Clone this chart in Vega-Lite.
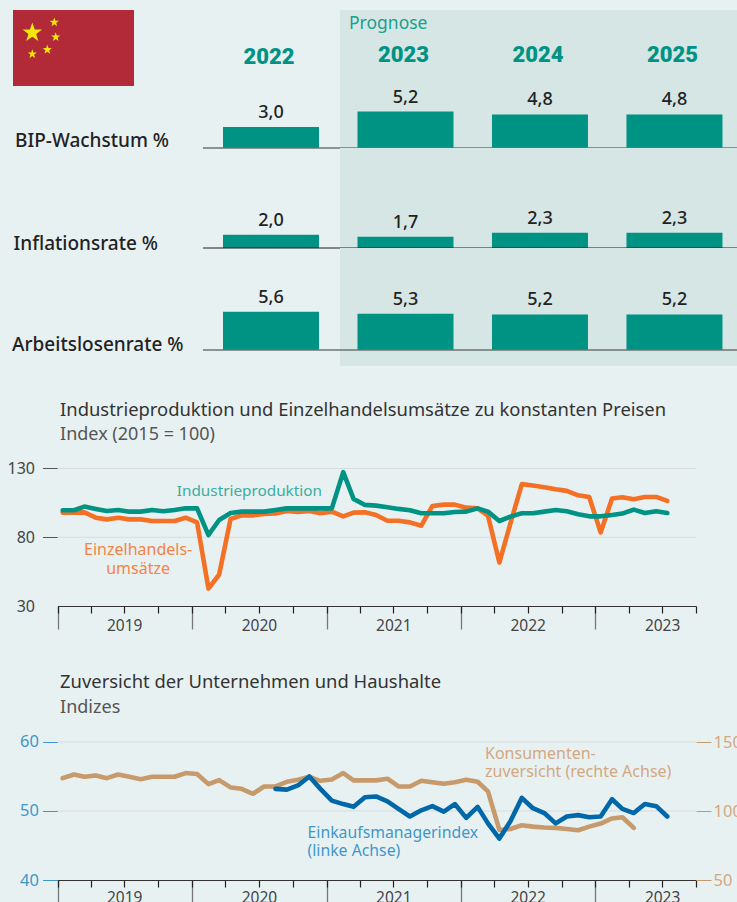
{"$schema":"https://vega.github.io/schema/vega-lite/v6.json","padding":0,"background":"#e8f1f2","bounds":"flush","spacing":0,"config":{"view":{"stroke":null},"font":"Noto Sans","text":{"font":"Noto Sans"}},
"datasets":{"kennzahlen":[
{"ind":"BIP","year":2022,"v":3.0,"l":"3,0"},{"ind":"BIP","year":2023,"v":5.2,"l":"5,2"},{"ind":"BIP","year":2024,"v":4.8,"l":"4,8"},{"ind":"BIP","year":2025,"v":4.8,"l":"4,8"},
{"ind":"INF","year":2022,"v":2.0,"l":"2,0"},{"ind":"INF","year":2023,"v":1.7,"l":"1,7"},{"ind":"INF","year":2024,"v":2.3,"l":"2,3"},{"ind":"INF","year":2025,"v":2.3,"l":"2,3"},
{"ind":"ARB","year":2022,"v":5.6,"l":"5,6"},{"ind":"ARB","year":2023,"v":5.3,"l":"5,3"},{"ind":"ARB","year":2024,"v":5.2,"l":"5,2"},{"ind":"ARB","year":2025,"v":5.2,"l":"5,2"}],
"jahre":[{"year":2022},{"year":2023},{"year":2024},{"year":2025}],
"sterne":[{"fx":19.3,"fy":22.7,"s":420},{"fx":41.3,"fy":12.3,"s":95},{"fx":42.7,"fy":27,"s":95},{"fx":34.3,"fy":39.7,"s":95},{"fx":19.3,"fy":44,"s":95}],
"industrie":[{"d":"2019-01-15","v":99.6},{"d":"2019-02-15","v":99.6},{"d":"2019-03-15","v":102.3},{"d":"2019-04-15","v":100.6},{"d":"2019-05-15","v":99.1},{"d":"2019-06-15","v":99.8},{"d":"2019-07-15","v":98.6},{"d":"2019-08-15","v":98.6},{"d":"2019-09-15","v":99.8},{"d":"2019-10-15","v":98.9},{"d":"2019-11-15","v":99.8},{"d":"2019-12-15","v":101},{"d":"2020-01-15","v":101},{"d":"2020-02-15","v":81.6},{"d":"2020-03-15","v":92.5},{"d":"2020-04-15","v":97.6},{"d":"2020-05-15","v":98.6},{"d":"2020-06-15","v":98.6},{"d":"2020-07-15","v":98.6},{"d":"2020-08-15","v":99.8},{"d":"2020-09-15","v":101},{"d":"2020-10-15","v":101},{"d":"2020-11-15","v":101},{"d":"2020-12-15","v":101},{"d":"2021-01-15","v":101},{"d":"2021-02-15","v":127.3},{"d":"2021-03-15","v":107.9},{"d":"2021-04-15","v":103.5},{"d":"2021-05-15","v":103},{"d":"2021-06-15","v":101.8},{"d":"2021-07-15","v":100.6},{"d":"2021-08-15","v":99.6},{"d":"2021-09-15","v":97.4},{"d":"2021-10-15","v":97.4},{"d":"2021-11-15","v":97.4},{"d":"2021-12-15","v":98.4},{"d":"2022-01-15","v":98.6},{"d":"2022-02-15","v":101},{"d":"2022-03-15","v":98.6},{"d":"2022-04-15","v":91.8},{"d":"2022-05-15","v":95},{"d":"2022-06-15","v":97.4},{"d":"2022-07-15","v":97.4},{"d":"2022-08-15","v":98.6},{"d":"2022-09-15","v":99.8},{"d":"2022-10-15","v":98.9},{"d":"2022-11-15","v":96.7},{"d":"2022-12-15","v":95.2},{"d":"2023-01-15","v":95.2},{"d":"2023-02-15","v":96.2},{"d":"2023-03-15","v":97.2},{"d":"2023-04-15","v":100.1},{"d":"2023-05-15","v":97.6},{"d":"2023-06-15","v":98.9},{"d":"2023-07-15","v":97.6}],
"einzelhandel":[{"d":"2019-01-15","v":97.9},{"d":"2019-02-15","v":97.9},{"d":"2019-03-15","v":98.1},{"d":"2019-04-15","v":94.2},{"d":"2019-05-15","v":93},{"d":"2019-06-15","v":94.2},{"d":"2019-07-15","v":93},{"d":"2019-08-15","v":93},{"d":"2019-09-15","v":91.8},{"d":"2019-10-15","v":91.8},{"d":"2019-11-15","v":91.8},{"d":"2019-12-15","v":94.2},{"d":"2020-01-15","v":90.8},{"d":"2020-02-15","v":42.7},{"d":"2020-03-15","v":52.9},{"d":"2020-04-15","v":93.3},{"d":"2020-05-15","v":95.9},{"d":"2020-06-15","v":95.9},{"d":"2020-07-15","v":96.9},{"d":"2020-08-15","v":97.2},{"d":"2020-09-15","v":99.1},{"d":"2020-10-15","v":98.4},{"d":"2020-11-15","v":99.1},{"d":"2020-12-15","v":97.4},{"d":"2021-01-15","v":98.6},{"d":"2021-02-15","v":95.2},{"d":"2021-03-15","v":97.9},{"d":"2021-04-15","v":98.1},{"d":"2021-05-15","v":96.2},{"d":"2021-06-15","v":92},{"d":"2021-07-15","v":92},{"d":"2021-08-15","v":90.8},{"d":"2021-09-15","v":88.4},{"d":"2021-10-15","v":102.7},{"d":"2021-11-15","v":103.7},{"d":"2021-12-15","v":103.7},{"d":"2022-01-15","v":101.5},{"d":"2022-02-15","v":101},{"d":"2022-03-15","v":95.7},{"d":"2022-04-15","v":61.6},{"d":"2022-05-15","v":90.1},{"d":"2022-06-15","v":118.6},{"d":"2022-07-15","v":117.6},{"d":"2022-08-15","v":116.4},{"d":"2022-09-15","v":114.9},{"d":"2022-10-15","v":113.7},{"d":"2022-11-15","v":110.5},{"d":"2022-12-15","v":109.3},{"d":"2023-01-15","v":83.5},{"d":"2023-02-15","v":108.1},{"d":"2023-03-15","v":109.1},{"d":"2023-04-15","v":107.6},{"d":"2023-05-15","v":109.3},{"d":"2023-06-15","v":109.3},{"d":"2023-07-15","v":106.4}],
"konsum":[{"d":"2019-01-15","v":123.8},{"d":"2019-02-15","v":126.5},{"d":"2019-03-15","v":124.8},{"d":"2019-04-15","v":125.8},{"d":"2019-05-15","v":123.8},{"d":"2019-06-15","v":126.5},{"d":"2019-07-15","v":124.8},{"d":"2019-08-15","v":123.1},{"d":"2019-09-15","v":124.8},{"d":"2019-10-15","v":124.8},{"d":"2019-11-15","v":124.8},{"d":"2019-12-15","v":127.5},{"d":"2020-01-15","v":126.8},{"d":"2020-02-15","v":119.5},{"d":"2020-03-15","v":122.4},{"d":"2020-04-15","v":117.1},{"d":"2020-05-15","v":116.1},{"d":"2020-06-15","v":112.5},{"d":"2020-07-15","v":117.8},{"d":"2020-08-15","v":117.8},{"d":"2020-09-15","v":121.2},{"d":"2020-10-15","v":122.6},{"d":"2020-11-15","v":124.8},{"d":"2020-12-15","v":121.9},{"d":"2021-01-15","v":122.9},{"d":"2021-02-15","v":127.5},{"d":"2021-03-15","v":122.2},{"d":"2021-04-15","v":122.2},{"d":"2021-05-15","v":122.2},{"d":"2021-06-15","v":123.4},{"d":"2021-07-15","v":117.8},{"d":"2021-08-15","v":117.8},{"d":"2021-09-15","v":121.9},{"d":"2021-10-15","v":120.9},{"d":"2021-11-15","v":119.7},{"d":"2021-12-15","v":120.9},{"d":"2022-01-15","v":122.6},{"d":"2022-02-15","v":121.2},{"d":"2022-03-15","v":114.2},{"d":"2022-04-15","v":86.3},{"d":"2022-05-15","v":87},{"d":"2022-06-15","v":89.7},{"d":"2022-07-15","v":88.7},{"d":"2022-08-15","v":88},{"d":"2022-09-15","v":87.8},{"d":"2022-10-15","v":87},{"d":"2022-11-15","v":86.1},{"d":"2022-12-15","v":88.7},{"d":"2023-01-15","v":90.9},{"d":"2023-02-15","v":94.6},{"d":"2023-03-15","v":95.5},{"d":"2023-04-15","v":87.8}],
"pmi":[{"d":"2020-08-15","v":53.2},{"d":"2020-09-15","v":53.1},{"d":"2020-10-15","v":53.7},{"d":"2020-11-15","v":55},{"d":"2020-12-15","v":53.2},{"d":"2021-01-15","v":51.5},{"d":"2021-02-15","v":51},{"d":"2021-03-15","v":50.6},{"d":"2021-04-15","v":52},{"d":"2021-05-15","v":52.1},{"d":"2021-06-15","v":51.4},{"d":"2021-07-15","v":50.3},{"d":"2021-08-15","v":49.2},{"d":"2021-09-15","v":50.1},{"d":"2021-10-15","v":50.7},{"d":"2021-11-15","v":49.9},{"d":"2021-12-15","v":51},{"d":"2022-01-15","v":49},{"d":"2022-02-15","v":50.6},{"d":"2022-03-15","v":48.2},{"d":"2022-04-15","v":46},{"d":"2022-05-15","v":48.5},{"d":"2022-06-15","v":51.9},{"d":"2022-07-15","v":50.4},{"d":"2022-08-15","v":49.7},{"d":"2022-09-15","v":48.2},{"d":"2022-10-15","v":49.2},{"d":"2022-11-15","v":49.4},{"d":"2022-12-15","v":49.1},{"d":"2023-01-15","v":49.2},{"d":"2023-02-15","v":51.7},{"d":"2023-03-15","v":50.3},{"d":"2023-04-15","v":49.7},{"d":"2023-05-15","v":51},{"d":"2023-06-15","v":50.7},{"d":"2023-07-15","v":49.2}]},
"vconcat":[
{"width":737,"height":90,"resolve":{"scale":{"x":"independent","y":"independent"}},"layer":[
{"data":{"values":[{"a":1}]},"mark":{"type":"rect","color":"#d5e6e5"},"encoding":{"x":{"datum":2022.513,"scale":{"domain":[2019.985,2025.465],"padding":0},"axis":null},"x2":{"datum":2025.465},"y":{"datum":10,"scale":{"domain":[90,0]},"axis":null},"y2":{"datum":90}}},
{"data":{"values":[{"a":1}]},"mark":{"type":"text","text":"Prognose","align":"left","baseline":"middle","color":"#1a9e90","fontSize":17.5},"encoding":{"x":{"datum":2022.58,"scale":{"domain":[2019.985,2025.465],"padding":0},"axis":null},"y":{"datum":24,"scale":{"domain":[90,0]},"axis":null}}},
{"data":{"name":"jahre"},"transform":[{"filter":"datum.year>2022"}],"mark":{"type":"text","dx":-2,"baseline":"middle","color":"#009384","fontSize":22,"fontWeight":900,"font":"Roboto"},"encoding":{"x":{"field":"year","type":"quantitative","scale":{"domain":[2019.985,2025.465],"padding":0},"axis":null},"y":{"datum":55,"scale":{"domain":[90,0]},"axis":null},"text":{"field":"year","type":"nominal"}}},
{"data":{"name":"jahre"},"transform":[{"filter":"datum.year==2022"}],"mark":{"type":"text","dx":-2,"baseline":"middle","color":"#009384","fontSize":22,"fontWeight":900,"font":"Roboto"},"encoding":{"x":{"field":"year","type":"quantitative","scale":{"domain":[2019.985,2025.465],"padding":0},"axis":null},"y":{"datum":57,"scale":{"domain":[90,0]},"axis":null},"text":{"field":"year","type":"nominal"}}},
{"data":{"values":[{"a":1}]},"mark":{"type":"rect","color":"#b22a37"},"encoding":{"x":{"datum":0,"scale":{"domain":[0,121],"range":[13,134]},"axis":null},"x2":{"datum":121},"y":{"datum":0,"scale":{"domain":[0,76],"range":[10,86]},"axis":null},"y2":{"datum":76}}},
{"data":{"name":"sterne"},"mark":{"type":"point","filled":true,"opacity":1,"color":"#f2e70c","strokeWidth":0,"shape":"M0,-1L0.235,-0.324L0.951,-0.309L0.38,0.124L0.588,0.809L0,0.4L-0.588,0.809L-0.38,0.124L-0.951,-0.309L-0.235,-0.324Z"},"encoding":{"x":{"field":"fx","type":"quantitative","scale":{"domain":[0,121],"range":[13,134]},"axis":null},"y":{"field":"fy","type":"quantitative","scale":{"domain":[0,76],"range":[10,86]},"axis":null},"size":{"field":"s","type":"quantitative","scale":null,"legend":null}}}
]},
{"width":737,"height":58,"data":{"name":"kennzahlen"},"transform":[{"filter":"datum.ind=='BIP'"}],"layer":[
{"data":{"values":[{"a":1}]},"mark":{"type":"rect","color":"#d5e6e5"},"encoding":{"x":{"datum":2022.513,"scale":{"domain":[2019.985,2025.465],"padding":0},"axis":null},"x2":{"datum":2025.465}}},
{"mark":{"type":"bar","width":96,"orient":"vertical","color":"#009384"},"encoding":{"x":{"field":"year","type":"quantitative","scale":{"domain":[2019.985,2025.465],"padding":0},"axis":null},"y":{"field":"v","type":"quantitative","scale":{"domain":[0,8.29]},"axis":null}}},
{"data":{"values":[{"a":1}]},"mark":{"type":"rule","color":"#6b7472","strokeWidth":1.5},"encoding":{"x":{"datum":2021.494,"scale":{"domain":[2019.985,2025.465],"padding":0},"axis":null},"x2":{"datum":2025.465},"y":{"datum":0,"scale":{"domain":[0,8.29]},"axis":null}}},
{"mark":{"type":"text","dy":-14,"baseline":"middle","color":"#222","fontSize":18,"fontWeight":500},"encoding":{"x":{"field":"year","type":"quantitative","scale":{"domain":[2019.985,2025.465],"padding":0},"axis":null},"y":{"field":"v","type":"quantitative","scale":{"domain":[0,8.29]},"axis":null},"text":{"field":"l"}}},
{"data":{"values":[{"t":"BIP-Wachstum %"}]},"mark":{"type":"text","align":"left","baseline":"middle","color":"#222","fontSize":19,"fontWeight":500},"encoding":{"x":{"datum":2020.097,"scale":{"domain":[2019.985,2025.465],"padding":0},"axis":null},"y":{"datum":1,"scale":{"domain":[0,8.29]},"axis":null},"text":{"field":"t"}}}
]},
{"width":737,"height":100,"data":{"name":"kennzahlen"},"transform":[{"filter":"datum.ind=='INF'"}],"layer":[
{"data":{"values":[{"a":1}]},"mark":{"type":"rect","color":"#d5e6e5"},"encoding":{"x":{"datum":2022.513,"scale":{"domain":[2019.985,2025.465],"padding":0},"axis":null},"x2":{"datum":2025.465}}},
{"mark":{"type":"bar","width":96,"orient":"vertical","color":"#009384"},"encoding":{"x":{"field":"year","type":"quantitative","scale":{"domain":[2019.985,2025.465],"padding":0},"axis":null},"y":{"field":"v","type":"quantitative","scale":{"domain":[0,15.15]},"axis":null}}},
{"data":{"values":[{"a":1}]},"mark":{"type":"rule","color":"#1c1c1c","strokeWidth":1},"encoding":{"x":{"datum":2021.494,"scale":{"domain":[2019.985,2025.465],"padding":0},"axis":null},"x2":{"datum":2025.465},"y":{"datum":0,"scale":{"domain":[0,15.15]},"axis":null}}},
{"mark":{"type":"text","dy":-14,"baseline":"middle","color":"#222","fontSize":18,"fontWeight":500},"encoding":{"x":{"field":"year","type":"quantitative","scale":{"domain":[2019.985,2025.465],"padding":0},"axis":null},"y":{"field":"v","type":"quantitative","scale":{"domain":[0,15.15]},"axis":null},"text":{"field":"l"}}},
{"data":{"values":[{"t":"Inflationsrate %"}]},"mark":{"type":"text","align":"left","baseline":"middle","color":"#222","fontSize":19,"fontWeight":500},"encoding":{"x":{"datum":2020.086,"scale":{"domain":[2019.985,2025.465],"padding":0},"axis":null},"y":{"datum":0.6,"scale":{"domain":[0,15.15]},"axis":null},"text":{"field":"t"}}}
]},
{"width":737,"height":118,"data":{"name":"kennzahlen"},"transform":[{"filter":"datum.ind=='ARB'"}],"layer":[
{"data":{"values":[{"a":1}]},"mark":{"type":"rect","color":"#d5e6e5"},"encoding":{"x":{"datum":2022.513,"scale":{"domain":[2019.985,2025.465],"padding":0},"axis":null},"x2":{"datum":2025.465}}},
{"mark":{"type":"bar","width":96,"orient":"vertical","color":"#009384"},"encoding":{"x":{"field":"year","type":"quantitative","scale":{"domain":[2019.985,2025.465],"padding":0},"axis":null},"y":{"field":"v","type":"quantitative","scale":{"domain":[-2.336,14.89]},"axis":null}}},
{"data":{"values":[{"a":1}]},"mark":{"type":"rule","color":"#6b7472","strokeWidth":1.5},"encoding":{"x":{"datum":2021.494,"scale":{"domain":[2019.985,2025.465],"padding":0},"axis":null},"x2":{"datum":2025.465},"y":{"datum":0,"scale":{"domain":[-2.336,14.89]},"axis":null}}},
{"mark":{"type":"text","dy":-14,"baseline":"middle","color":"#222","fontSize":18,"fontWeight":500},"encoding":{"x":{"field":"year","type":"quantitative","scale":{"domain":[2019.985,2025.465],"padding":0},"axis":null},"y":{"field":"v","type":"quantitative","scale":{"domain":[-2.336,14.89]},"axis":null},"text":{"field":"l"}}},
{"data":{"values":[{"t":"Arbeitslosenrate %"}]},"mark":{"type":"text","align":"left","baseline":"middle","color":"#222","fontSize":19,"fontWeight":500},"encoding":{"x":{"datum":2020.075,"scale":{"domain":[2019.985,2025.465],"padding":0},"axis":null},"y":{"datum":0.7,"scale":{"domain":[-2.336,14.89]},"axis":null},"text":{"field":"t"}}}
]},
{"width":737,"height":240,"resolve":{"scale":{"y":"independent"},"axis":{"x":"independent","y":"independent"}},"layer":[
{"data":{"values":[{"g":130},{"g":80}]},"mark":{"type":"rule","color":"#d7dcdc","strokeWidth":1},"encoding":{"x":{"datum":{"year":2019,"month":1,"date":1},"type":"temporal","scale":{"domain":[{"year":2019,"month":1,"date":1},{"year":2023,"month":10,"date":1}],"range":[57.5,696]},"axis":{"orient":"bottom","title":null,"values":[{"year":2019,"month":1,"date":1},{"year":2020,"month":1,"date":1},{"year":2021,"month":1,"date":1},{"year":2022,"month":1,"date":1},{"year":2023,"month":1,"date":1}],"labels":false,"domain":false,"grid":false,"tickSize":23,"tickColor":"#777","tickWidth":1.3}},"x2":{"datum":{"year":2023,"month":10,"date":1}},"y":{"field":"g","type":"quantitative","scale":{"domain":[30,204.5]},"axis":{"orient":"left","offset":-57.5,"title":null,"values":[30,80,130],"grid":false,"domain":false,"tickSize":15,"tickColor":{"condition":{"test":"datum.value==30","value":"transparent"},"value":"#555"},"labelColor":"#444","labelFontSize":16,"labelPadding":8,"labelFont":"Noto Sans"}}}},
{"data":{"name":"einzelhandel"},"mark":{"type":"line","color":"#f47024","strokeWidth":4.6,"strokeJoin":"round","strokeCap":"round"},"encoding":{"x":{"field":"d","type":"temporal","scale":{"domain":[{"year":2019,"month":1,"date":1},{"year":2023,"month":10,"date":1}],"range":[57.5,696]},"axis":{"orient":"bottom","title":null,"values":[{"year":2019,"month":1,"date":1},{"year":2019,"month":4,"date":1},{"year":2019,"month":7,"date":1},{"year":2019,"month":10,"date":1},{"year":2020,"month":1,"date":1},{"year":2020,"month":4,"date":1},{"year":2020,"month":7,"date":1},{"year":2020,"month":10,"date":1},{"year":2021,"month":1,"date":1},{"year":2021,"month":4,"date":1},{"year":2021,"month":7,"date":1},{"year":2021,"month":10,"date":1},{"year":2022,"month":1,"date":1},{"year":2022,"month":4,"date":1},{"year":2022,"month":7,"date":1},{"year":2022,"month":10,"date":1},{"year":2023,"month":1,"date":1},{"year":2023,"month":4,"date":1},{"year":2023,"month":7,"date":1},{"year":2023,"month":10,"date":1}],"labelExpr":"month(datum.value)==6?''+year(datum.value):''","grid":false,"domainColor":"#333","domainWidth":1.2,"tickSize":7,"tickColor":"#222","tickWidth":1.2,"labelColor":"#444","labelFontSize":15.5,"labelPadding":5,"labelOverlap":false,"labelFlush":false,"labelFont":"Noto Sans"}},"y":{"field":"v","type":"quantitative","scale":{"domain":[30,204.5]},"axis":null}}},
{"data":{"name":"industrie"},"mark":{"type":"line","color":"#009384","strokeWidth":4.6,"strokeJoin":"round","strokeCap":"round"},"encoding":{"x":{"field":"d","type":"temporal","axis":null},"y":{"field":"v","type":"quantitative","scale":{"domain":[30,204.5]},"axis":null}}},
{"data":{"values":[{"t":"Industrieproduktion"}]},"mark":{"type":"text","align":"left","baseline":"middle","color":"#3bac9f","fontSize":15.3},"encoding":{"x":{"datum":{"year":2019,"month":11,"date":21},"type":"temporal","axis":null},"y":{"datum":113.6,"scale":{"domain":[30,204.5]},"axis":null},"text":{"field":"t"}}},
{"data":{"values":[{"t":"Einzelhandels-"}]},"mark":{"type":"text","align":"center","baseline":"middle","color":"#f58345","fontSize":16},"encoding":{"x":{"datum":{"year":2019,"month":8,"date":8},"type":"temporal","axis":null},"y":{"datum":70.7,"scale":{"domain":[30,204.5]},"axis":null},"text":{"field":"t"}}},
{"data":{"values":[{"t":"umsätze"}]},"mark":{"type":"text","align":"center","baseline":"middle","color":"#f58345","fontSize":16},"encoding":{"x":{"datum":{"year":2019,"month":8,"date":8},"type":"temporal","axis":null},"y":{"datum":56.9,"scale":{"domain":[30,204.5]},"axis":null},"text":{"field":"t"}}},
{"data":{"values":[{"t":"Industrieproduktion und Einzelhandelsumsätze zu konstanten Preisen"}]},"mark":{"type":"text","align":"left","baseline":"middle","color":"#333","fontSize":18.4},"encoding":{"x":{"datum":{"year":2019,"month":1,"date":8},"type":"temporal","axis":null},"y":{"datum":172.5,"scale":{"domain":[30,204.5]},"axis":null},"text":{"field":"t"}}},
{"data":{"values":[{"t":"Index (2015 = 100)"}]},"mark":{"type":"text","align":"left","baseline":"middle","color":"#555","fontSize":18},"encoding":{"x":{"datum":{"year":2019,"month":1,"date":8},"type":"temporal","axis":null},"y":{"datum":154.4,"scale":{"domain":[30,204.5]},"axis":null},"text":{"field":"t"}}}
]},
{"width":737,"height":274,"resolve":{"scale":{"y":"independent"},"axis":{"x":"independent","y":"independent"}},"layer":[
{"data":{"values":[{"g":60},{"g":50}]},"mark":{"type":"rule","color":"#d7dcdc","strokeWidth":1},"encoding":{"x":{"datum":{"year":2019,"month":1,"date":1},"type":"temporal","scale":{"domain":[{"year":2019,"month":1,"date":1},{"year":2023,"month":10,"date":1}],"range":[57.5,696]},"axis":{"orient":"bottom","title":null,"values":[{"year":2019,"month":1,"date":1},{"year":2020,"month":1,"date":1},{"year":2021,"month":1,"date":1},{"year":2022,"month":1,"date":1},{"year":2023,"month":1,"date":1}],"labels":false,"domain":false,"grid":false,"tickSize":23,"tickColor":"#777","tickWidth":1.3}},"x2":{"datum":{"year":2023,"month":10,"date":1}},"y":{"field":"g","type":"quantitative","scale":{"domain":[40,79.7]},"axis":{"orient":"left","offset":-57.5,"title":null,"values":[40,50,60],"grid":false,"domain":false,"tickSize":15,"tickColor":"#3f97c9","labelColor":"#3f97c9","labelFontSize":16.5,"labelPadding":4,"labelFont":"Noto Sans"}}}},
{"data":{"name":"konsum"},"mark":{"type":"line","color":"#c79a6b","strokeWidth":4.6,"strokeJoin":"round","strokeCap":"round"},"encoding":{"x":{"field":"d","type":"temporal","scale":{"domain":[{"year":2019,"month":1,"date":1},{"year":2023,"month":10,"date":1}],"range":[57.5,696]},"axis":{"orient":"bottom","title":null,"values":[{"year":2019,"month":1,"date":1},{"year":2019,"month":4,"date":1},{"year":2019,"month":7,"date":1},{"year":2019,"month":10,"date":1},{"year":2020,"month":1,"date":1},{"year":2020,"month":4,"date":1},{"year":2020,"month":7,"date":1},{"year":2020,"month":10,"date":1},{"year":2021,"month":1,"date":1},{"year":2021,"month":4,"date":1},{"year":2021,"month":7,"date":1},{"year":2021,"month":10,"date":1},{"year":2022,"month":1,"date":1},{"year":2022,"month":4,"date":1},{"year":2022,"month":7,"date":1},{"year":2022,"month":10,"date":1},{"year":2023,"month":1,"date":1},{"year":2023,"month":4,"date":1},{"year":2023,"month":7,"date":1},{"year":2023,"month":10,"date":1}],"labelExpr":"month(datum.value)==6?''+year(datum.value):''","grid":false,"domainColor":"#333","domainWidth":1.2,"tickSize":7,"tickColor":"#222","tickWidth":1.2,"labelColor":"#444","labelFontSize":15.5,"labelPadding":3,"labelOverlap":false,"labelFlush":false,"labelFont":"Noto Sans"}},"y":{"field":"v","type":"quantitative","scale":{"domain":[50,248.6]},"axis":{"orient":"right","offset":-41,"title":null,"values":[50,100,150],"grid":false,"domain":false,"tickSize":15,"tickColor":"#c79a6b","labelColor":"#d3a880","labelFontSize":16.5,"labelPadding":2,"labelFont":"Noto Sans"}}}},
{"data":{"name":"pmi"},"mark":{"type":"line","color":"#0068a8","strokeWidth":4.6,"strokeJoin":"round","strokeCap":"round"},"encoding":{"x":{"field":"d","type":"temporal","axis":null},"y":{"field":"v","type":"quantitative","scale":{"domain":[40,79.7]},"axis":null}}},
{"data":{"values":[{"t":"Einkaufsmanagerindex"}]},"mark":{"type":"text","align":"left","baseline":"middle","color":"#3f97c9","fontSize":15.8},"encoding":{"x":{"datum":{"year":2020,"month":11,"date":10},"type":"temporal","axis":null},"y":{"datum":46.8,"scale":{"domain":[40,79.7]},"axis":null},"text":{"field":"t"}}},
{"data":{"values":[{"t":"(linke Achse)"}]},"mark":{"type":"text","align":"left","baseline":"middle","color":"#3f97c9","fontSize":15.8},"encoding":{"x":{"datum":{"year":2020,"month":11,"date":10},"type":"temporal","axis":null},"y":{"datum":44.2,"scale":{"domain":[40,79.7]},"axis":null},"text":{"field":"t"}}},
{"data":{"values":[{"t":"Konsumenten-"}]},"mark":{"type":"text","align":"left","baseline":"middle","color":"#d3a880","fontSize":16},"encoding":{"x":{"datum":{"year":2022,"month":3,"date":7},"type":"temporal","axis":null},"y":{"datum":58.3,"scale":{"domain":[40,79.7]},"axis":null},"text":{"field":"t"}}},
{"data":{"values":[{"t":"zuversicht (rechte Achse)"}]},"mark":{"type":"text","align":"left","baseline":"middle","color":"#d3a880","fontSize":16},"encoding":{"x":{"datum":{"year":2022,"month":3,"date":7},"type":"temporal","axis":null},"y":{"datum":55.7,"scale":{"domain":[40,79.7]},"axis":null},"text":{"field":"t"}}},
{"data":{"values":[{"t":"Zuversicht der Unternehmen und Haushalte"}]},"mark":{"type":"text","align":"left","baseline":"middle","color":"#333","fontSize":18.4},"encoding":{"x":{"datum":{"year":2019,"month":1,"date":8},"type":"temporal","axis":null},"y":{"datum":68.7,"scale":{"domain":[40,79.7]},"axis":null},"text":{"field":"t"}}},
{"data":{"values":[{"t":"Indizes"}]},"mark":{"type":"text","align":"left","baseline":"middle","color":"#555","fontSize":18},"encoding":{"x":{"datum":{"year":2019,"month":1,"date":8},"type":"temporal","axis":null},"y":{"datum":64.9,"scale":{"domain":[40,79.7]},"axis":null},"text":{"field":"t"}}}
]}
]}
